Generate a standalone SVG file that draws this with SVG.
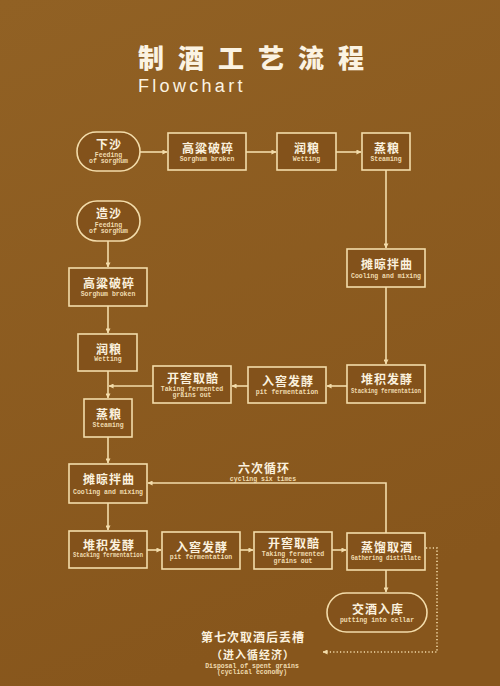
<svg xmlns="http://www.w3.org/2000/svg" width="500" height="686" viewBox="0 0 500 686">
<defs>
<linearGradient id="bg" x1="0" y1="0" x2="0.3" y2="1">
<stop offset="0" stop-color="#916124"/>
<stop offset="1" stop-color="#87561c"/>
</linearGradient>
<marker id="ah" viewBox="0 0 6 6" refX="5.5" refY="3" markerWidth="5" markerHeight="5" orient="auto" markerUnits="userSpaceOnUse">
<path d="M0,0 L6,3 L0,6 z" fill="#f3dcaa"/>
</marker>
<style>
.box{fill:#83521b;stroke:#f3dcaa;stroke-width:1.6}
.cn{font-family:"Noto Sans CJK SC","Noto Sans",sans-serif;font-weight:700;font-size:12px;fill:#fbf1de;text-anchor:middle;letter-spacing:1px}
.en{font-family:"Liberation Mono","DejaVu Sans Mono",monospace;font-weight:700;font-size:6.5px;fill:#f0dcb0;text-anchor:middle}
.ln{fill:none;stroke:#f3dcaa;stroke-width:1.6}
.dot{fill:none;stroke:#f3dcaa;stroke-width:1.6;stroke-dasharray:1.2 2.2}
</style>
</defs>
<rect width="500" height="686" fill="url(#bg)"/>

<g id="title">
<text x="138" y="68" font-family="Noto Sans CJK SC, sans-serif" font-weight="900" font-size="26" letter-spacing="14" fill="#fbf3e2">制酒工艺流程</text>
<text x="138" y="92" font-family="Liberation Sans, Arial, sans-serif" font-size="18" letter-spacing="3.3" fill="#fbf3e2">Flowchart</text>
</g>

<g id="connectors">
<line class="ln" x1="140" y1="152" x2="167" y2="152" marker-end="url(#ah)"/>
<line class="ln" x1="246" y1="152" x2="276" y2="152" marker-end="url(#ah)"/>
<line class="ln" x1="336" y1="152" x2="361" y2="152" marker-end="url(#ah)"/>
<line class="ln" x1="386" y1="170" x2="386" y2="248" marker-end="url(#ah)"/>
<line class="ln" x1="386" y1="287" x2="386" y2="364" marker-end="url(#ah)"/>
<line class="ln" x1="347" y1="386" x2="327" y2="386" marker-end="url(#ah)"/>
<line class="ln" x1="248" y1="386" x2="232" y2="386" marker-end="url(#ah)"/>
<line class="ln" x1="153" y1="386" x2="109" y2="386" marker-end="url(#ah)"/>
<line class="ln" x1="108" y1="241" x2="108" y2="267" marker-end="url(#ah)"/>
<line class="ln" x1="108" y1="306" x2="108" y2="333" marker-end="url(#ah)"/>
<line class="ln" x1="108" y1="371" x2="108" y2="398" marker-end="url(#ah)"/>
<line class="ln" x1="108" y1="437" x2="108" y2="463" marker-end="url(#ah)"/>
<line class="ln" x1="108" y1="503" x2="108" y2="530" marker-end="url(#ah)"/>
<line class="ln" x1="147" y1="550" x2="161" y2="550" marker-end="url(#ah)"/>
<line class="ln" x1="240" y1="550" x2="253" y2="550" marker-end="url(#ah)"/>
<line class="ln" x1="332" y1="550" x2="346" y2="550" marker-end="url(#ah)"/>
<polyline class="ln" points="386,533 386,483 148,483" marker-end="url(#ah)"/>
<line class="ln" x1="386" y1="570" x2="386" y2="592" marker-end="url(#ah)"/>
<polyline class="dot" points="426,548 437,548 437,652 323,652" marker-end="url(#ah)"/>
</g>

<g id="n1"><rect class="box" x="77" y="132" width="63" height="39" rx="19.5"/>
<text class="cn" x="109" y="149">下沙</text><text class="en" x="108.5" y="156.5">Feeding</text><text class="en" x="108.5" y="162.5">of sorghum</text></g>
<g id="n2"><rect class="box" x="168" y="133" width="78" height="37"/>
<text class="cn" x="208" y="153">高粱破碎</text><text class="en" x="207" y="160.5">Sorghum broken</text></g>
<g id="n3"><rect class="box" x="277" y="133" width="59" height="37"/>
<text class="cn" x="307" y="153">润粮</text><text class="en" x="306.5" y="160.5">Wetting</text></g>
<g id="n4"><rect class="box" x="362" y="133" width="48" height="37"/>
<text class="cn" x="387" y="153">蒸粮</text><text class="en" x="386" y="160.5">Steaming</text></g>
<g id="n5"><rect class="box" x="347" y="249" width="78" height="38"/>
<text class="cn" x="387" y="269">摊晾拌曲</text><text class="en" x="386" y="278" textLength="70" lengthAdjust="spacingAndGlyphs">Cooling and mixing</text></g>
<g id="n6"><rect class="box" x="347" y="365" width="78" height="38"/>
<text class="cn" x="387" y="384">堆积发酵</text><text class="en" x="386" y="393" textLength="70" lengthAdjust="spacingAndGlyphs">Stacking fermentation</text></g>
<g id="n7"><rect class="box" x="248" y="367" width="78" height="36"/>
<text class="cn" x="288" y="386">入窖发酵</text><text class="en" x="287" y="394">pit fermentation</text></g>
<g id="n8"><rect class="box" x="153" y="366" width="78" height="37"/>
<text class="cn" x="193" y="383">开窖取醅</text><text class="en" x="192" y="390.5">Taking fermented</text><text class="en" x="192" y="397">grains out</text></g>
<g id="n9"><rect class="box" x="77" y="201" width="63" height="40" rx="20"/>
<text class="cn" x="109" y="218">造沙</text><text class="en" x="108.5" y="226.5">Feeding</text><text class="en" x="108.5" y="232.5">of sorghum</text></g>
<g id="n10"><rect class="box" x="69" y="268" width="78" height="38"/>
<text class="cn" x="109" y="288">高粱破碎</text><text class="en" x="108" y="296">Sorghum broken</text></g>
<g id="n11"><rect class="box" x="78" y="334" width="59" height="37"/>
<text class="cn" x="109" y="354">润粮</text><text class="en" x="108" y="361">Wetting</text></g>
<g id="n12"><rect class="box" x="84" y="399" width="48" height="38"/>
<text class="cn" x="109" y="419">蒸粮</text><text class="en" x="108" y="427">Steaming</text></g>
<g id="n13"><rect class="box" x="69" y="464" width="78" height="39"/>
<text class="cn" x="109" y="484">摊晾拌曲</text><text class="en" x="108" y="494" textLength="70" lengthAdjust="spacingAndGlyphs">Cooling and mixing</text></g>
<g id="n14"><rect class="box" x="69" y="531" width="78" height="37"/>
<text class="cn" x="109" y="550">堆积发酵</text><text class="en" x="108" y="557" textLength="70" lengthAdjust="spacingAndGlyphs">Stacking fermentation</text></g>
<g id="n15"><rect class="box" x="162" y="532" width="78" height="37"/>
<text class="cn" x="202" y="552">入窖发酵</text><text class="en" x="201" y="559">pit fermentation</text></g>
<g id="n16"><rect class="box" x="254" y="532" width="78" height="37"/>
<text class="cn" x="294" y="548">开窖取醅</text><text class="en" x="293" y="555.5">Taking fermented</text><text class="en" x="293" y="563">grains out</text></g>
<g id="n17"><rect class="box" x="347" y="533" width="78" height="37"/>
<text class="cn" x="387" y="552">蒸馏取酒</text><text class="en" x="386" y="560" textLength="70" lengthAdjust="spacingAndGlyphs">Gathering distillate</text></g>
<g id="n18"><rect class="box" x="327" y="593" width="100" height="39" rx="19.5"/>
<text class="cn" x="378" y="614">交酒入库</text><text class="en" x="377" y="621.5">putting into cellar</text></g>

<g id="cycle-label">
<text class="cn" x="264" y="473">六次循环</text><text class="en" x="263" y="481">cycling six times</text>
</g>
<g id="disposal">
<text class="cn" x="253" y="642">第七次取酒后丢槽</text>
<text class="cn" x="253" y="659" style="font-size:11px">（进入循经济）</text>
<text class="en" x="252" y="668">Disposal of spent grains</text>
<text class="en" x="252" y="674">(cyclical economy)</text>
</g>
</svg>
